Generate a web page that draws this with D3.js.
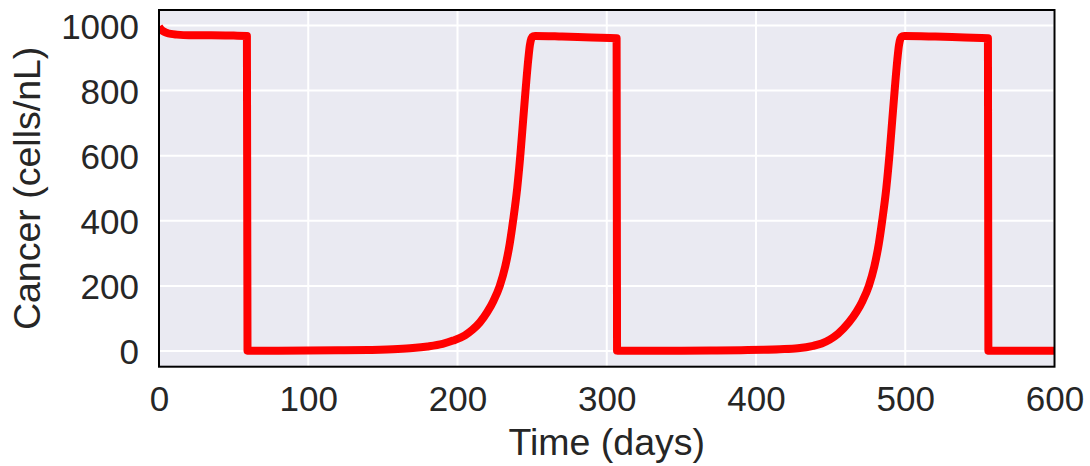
<!DOCTYPE html>
<html>
<head>
<meta charset="utf-8">
<script src="https://cdn.jsdelivr.net/npm/d3@7"></script>
<style>
  html, body { margin: 0; padding: 0; background: #ffffff; }
  svg { display: block; }
  text { font-family: "Liberation Sans", Arial, sans-serif; fill: #262626; }
</style>
</head>
<body>
<svg id="chart" width="1090" height="466"></svg>
<script>
// ---- Data ----
const days = [
  0, 1, 3, 5, 8, 12, 20, 35, 50, 58.9, 59.3, 60, 80, 100, 120, 140, 160, 170, 180, 190,
  197, 205, 210, 215, 220, 224, 228.3, 232, 235, 237.3, 240, 242.2, 244, 245.8, 247.4, 248.5, 249.5, 250.7, 252,
  270, 290, 306.6, 306.9, 308, 330, 350, 370, 390, 405, 416, 428, 438.3, 444, 449.4, 455,
  462.3, 467.3, 471.3, 475.6, 479.3, 482.3, 484.6, 487.3, 489.5, 491.3, 493.1, 494.7, 495.8, 496.8, 498, 499.5,
  520, 540, 555.4, 555.7, 557, 580, 600
];
const cancer = [
  996, 990, 982, 978, 974, 972, 970, 970, 969, 968, 1, 0.5, 0.7, 1.2, 2, 3.2, 6, 9, 14, 22,
  32, 48, 65, 88, 120, 153, 200, 260, 330, 402, 500, 607, 710, 812, 895, 940, 960, 967, 968,
  966, 963, 961, 1, 0.5, 0.7, 1, 1.6, 2.5, 3.8, 5.5, 8.5, 16, 23, 35, 53,
  88, 120, 153, 200, 260, 330, 402, 500, 607, 710, 812, 895, 940, 960, 967, 968,
  966, 963, 961, 1, 0.5, 0.6, 0.8
];
const xTicks = [0, 100, 200, 300, 400, 500, 600];
const yTicks = [0, 200, 400, 600, 800, 1000];
const xDomain = [0, 600];
const yDomain = [-48.2, 1047.6];
const xLabel = "Time (days)";
const yLabel = "Cancer (cells/nL)";

// ---- Layout ----
const svg = d3.select("#chart");
const pL = 159, pR = 1054.5, pT = 10, pB = 366.7;
const W = pR - pL, H = pB - pT;

const x = d3.scaleLinear().domain(xDomain).range([pL, pR]);
const y = d3.scaleLinear().domain(yDomain).range([pB, pT]);

// background
svg.append("rect")
  .attr("x", pL).attr("y", pT).attr("width", W).attr("height", H)
  .attr("fill", "#EAEAF2");

// grid
const grid = svg.append("g");
grid.selectAll(".vg").data(xTicks).join("line")
  .attr("x1", d => x(d)).attr("x2", d => x(d))
  .attr("y1", pT).attr("y2", pB)
  .attr("stroke", "#ffffff").attr("stroke-width", 2);
grid.selectAll(".hg").data(yTicks).join("line")
  .attr("x1", pL).attr("x2", pR)
  .attr("y1", d => y(d)).attr("y2", d => y(d))
  .attr("stroke", "#ffffff").attr("stroke-width", 2);

// clip
svg.append("clipPath").attr("id", "clip")
  .append("rect").attr("x", pL).attr("y", pT).attr("width", W).attr("height", H);

// line
const pts = days.map((d, i) => [d, cancer[i]]);
const line = d3.line()
  .x(d => x(d[0]))
  .y(d => y(d[1]))
  .curve(d3.curveMonotoneX);
svg.append("path")
  .datum(pts)
  .attr("clip-path", "url(#clip)")
  .attr("d", line)
  .attr("fill", "none")
  .attr("stroke", "#ff0000")
  .attr("stroke-width", 8)
  .attr("stroke-linejoin", "round")
  .attr("stroke-linecap", "butt");

// frame
svg.append("rect")
  .attr("x", pL).attr("y", pT).attr("width", W).attr("height", H)
  .attr("fill", "none").attr("stroke", "#000000").attr("stroke-width", 2);

// axes
const xAxis = svg.append("g")
  .attr("transform", `translate(0,${pB})`)
  .call(d3.axisBottom(x).tickValues(xTicks).tickFormat(d3.format("d")).tickSize(0).tickPadding(19.4));
const yAxis = svg.append("g")
  .attr("transform", `translate(${pL},0)`)
  .call(d3.axisLeft(y).tickValues(yTicks).tickFormat(d3.format("d")).tickSize(0).tickPadding(20));
[xAxis, yAxis].forEach(a => {
  a.select(".domain").remove();
  a.selectAll("text")
    .style("font-family", '"Liberation Sans", Arial, sans-serif')
    .style("font-size", "35px")
    .attr("fill", "#262626");
});
yAxis.selectAll("text").attr("dy", "0.36em");

// axis labels
svg.append("text")
  .attr("x", (pL + pR) / 2).attr("y", 455)
  .attr("text-anchor", "middle")
  .style("font-size", "37.5px")
  .text(xLabel);
svg.append("text")
  .attr("transform", `translate(40,${(pT + pB) / 2}) rotate(-90)`)
  .attr("text-anchor", "middle")
  .style("font-size", "37.5px")
  .text(yLabel);
</script>
</body>
</html>
